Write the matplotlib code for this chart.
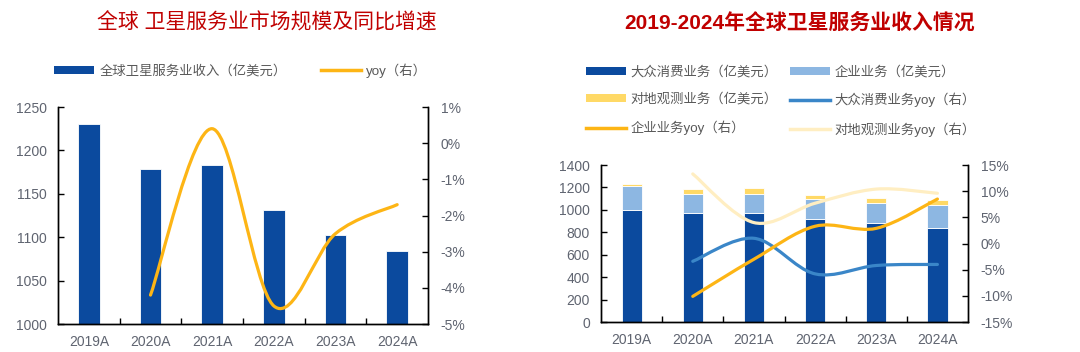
import numpy as np
import matplotlib
matplotlib.use('Agg')
import matplotlib.pyplot as plt
from matplotlib.path import Path
from matplotlib.patches import PathPatch, Patch
from matplotlib.lines import Line2D

plt.rcParams['font.family'] = ['Liberation Sans', 'Noto Sans CJK SC']
plt.rcParams['axes.unicode_minus'] = False

# ---- data ----
years = ['2019A', '2020A', '2021A', '2022A', '2023A', '2024A']

# left chart
total_rev = [1230, 1179, 1183, 1131, 1103, 1084]
total_yoy = [np.nan, -4.2, 0.4, -4.5, -2.5, -1.7]

# right chart (stacked)
consumer = [1000, 970, 975, 920, 880, 840]
enterprise = [210, 175, 170, 175, 185, 200]
earth_obs = [25, 40, 50, 40, 40, 45]
consumer_yoy = [np.nan, -3.4, 1.0, -5.8, -4.2, -4.0]
enterprise_yoy = [np.nan, -10.1, -3.0, 3.3, 2.9, 8.5]
earth_obs_yoy = [np.nan, 13.3, 4.0, 7.7, 10.4, 9.6]

dark_blue = '#0B4A9E'
light_blue = '#8DB7E2'
light_yellow = '#FFD966'
line_blue = '#3A86C8'
line_orange = '#FDB515'
line_pale = '#FFEEC2'
tick_color = '#5F6470'
title_red = '#C00000'


def smooth_path(xs, ys):
    # Excel-like smoothed line as cubic Bezier segments
    pts = np.column_stack([xs, ys]).astype(float)
    pts = pts[~np.isnan(pts[:, 1])]
    n = len(pts)
    verts = [pts[0]]
    codes = [Path.MOVETO]
    for i in range(n - 1):
        p0 = pts[i - 1] if i > 0 else pts[i]
        p1 = pts[i]
        p2 = pts[i + 1]
        p3 = pts[i + 2] if i + 2 < n else pts[i + 1]
        verts += [p1 + (p2 - p0) / 6, p2 - (p3 - p1) / 6, p2]
        codes += [Path.CURVE4] * 3
    return Path(verts, codes)


def style_axes(ax, ax2):
    ax.spines['top'].set_visible(False)
    ax2.spines['top'].set_visible(False)
    for ax_ in (ax, ax2):
        for s in ('left', 'right', 'bottom'):
            ax_.spines[s].set_linewidth(1.0)
            ax_.spines[s].set_color('black')
    ax.set_xlim(-0.5, len(years) - 0.5)
    ax.set_xticks(np.arange(0.5, len(years) - 0.5, 1))
    ax.set_xticklabels([])
    ax.set_xticks(np.arange(len(years)), minor=True)
    ax.set_xticklabels(years, minor=True)
    ax.tick_params(axis='x', which='major', direction='in', length=4, width=1)
    ax.tick_params(axis='x', which='minor', length=0, pad=8,
                   labelsize=10, labelcolor=tick_color)
    ax.tick_params(axis='y', direction='in', length=4, width=1,
                   labelsize=10, labelcolor=tick_color, pad=8)
    ax2.tick_params(axis='y', direction='in', length=4, width=1,
                    labelsize=10, labelcolor=tick_color, pad=9)


fig = plt.figure(figsize=(10.8, 3.52), dpi=100)
x = np.arange(len(years))

# ---- left chart ----
ax1 = fig.add_axes([0.0537, 0.0795, 0.3426, 0.6165])
ax1b = ax1.twinx()
ax1.bar(x, total_rev, width=0.35, color=dark_blue, edgecolor='white',
        linewidth=0.6)
ax1.set_ylim(1000, 1250)
ax1.set_yticks(np.arange(1000, 1251, 50))
ax1b.set_ylim(-5, 1)
ax1b.set_yticks(np.arange(-5, 1.1, 1))
ax1b.set_yticklabels(['{:.0f}%'.format(v) for v in np.arange(-5, 1.1, 1)])
ax1b.add_patch(PathPatch(smooth_path(x, total_yoy), fill=False,
                         edgecolor=line_orange, lw=2.3, capstyle='round'))
style_axes(ax1, ax1b)

fig.text(0.247, 0.935, '全球 卫星服务业市场规模及同比增速', color=title_red,
         fontsize=15, ha='center', va='center')
h1 = [Patch(facecolor=dark_blue, edgecolor='none'),
      Line2D([0], [0], color=line_orange, lw=2.5)]
ax1.legend(h1, ['全球卫星服务业收入（亿美元）', 'yoy（右）'], ncol=2,
           loc='center', bbox_to_anchor=(0.223, 0.80),
           bbox_transform=fig.transFigure, frameon=False, fontsize=9.6,
           labelcolor='#595959', handlelength=3.0, handleheight=0.55,
           handletextpad=0.38, columnspacing=2.6)

# ---- right chart ----
ax2 = fig.add_axes([0.5565, 0.0852, 0.3398, 0.446])
ax2b = ax2.twinx()
ax2.bar(x, consumer, width=0.33, color=dark_blue, edgecolor='white',
        linewidth=0.6)
ax2.bar(x, enterprise, width=0.33, bottom=consumer, color=light_blue,
        edgecolor='white', linewidth=0.6)
bottom2 = np.array(consumer) + np.array(enterprise)
ax2.bar(x, earth_obs, width=0.33, bottom=bottom2, color=light_yellow,
        edgecolor='white', linewidth=0.6)
ax2.set_ylim(0, 1400)
ax2.set_yticks(np.arange(0, 1401, 200))
ax2b.set_ylim(-15, 15)
ax2b.set_yticks(np.arange(-15, 16, 5))
ax2b.set_yticklabels(['{:.0f}%'.format(v) for v in np.arange(-15, 16, 5)])
for series, col in ((earth_obs_yoy, line_pale), (consumer_yoy, line_blue),
                    (enterprise_yoy, line_orange)):
    ax2b.add_patch(PathPatch(smooth_path(x, series), fill=False,
                             edgecolor=col, lw=2.3, capstyle='round'))
style_axes(ax2, ax2b)

fig.text(0.740, 0.935, '2019-2024年全球卫星服务业收入情况', color=title_red,
         fontsize=15, fontweight='bold', ha='center', va='center')
h2 = [Patch(facecolor=dark_blue, edgecolor='none'),
      Patch(facecolor=light_blue, edgecolor='none'),
      Patch(facecolor=light_yellow, edgecolor='none'),
      Line2D([0], [0], color=line_blue, lw=2.5),
      Line2D([0], [0], color=line_orange, lw=2.5),
      Line2D([0], [0], color=line_pale, lw=2.5)]
l2 = ['大众消费业务（亿美元）', '企业业务（亿美元）', '对地观测业务（亿美元）',
      '大众消费业务yoy（右）', '企业业务yoy（右）', '对地观测业务yoy（右）']
# order to fill rows left-to-right
order = [0, 2, 4, 1, 3, 5]
ax2.legend([h2[i] for i in order], [l2[i] for i in order], ncol=2,
           loc='center', bbox_to_anchor=(0.723, 0.713),
           bbox_transform=fig.transFigure, frameon=False, fontsize=9.6,
           labelcolor='#595959', handlelength=3.0, handleheight=0.55,
           handletextpad=0.38, columnspacing=0.9, labelspacing=1.1)

fig.savefig('out.png', dpi=100)
